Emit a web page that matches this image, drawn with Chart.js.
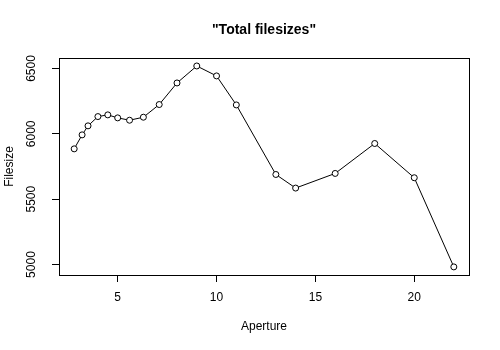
<!DOCTYPE html>
<html>
<head>
<meta charset="utf-8">
<script src="https://cdn.jsdelivr.net/npm/chart.js@4/dist/chart.umd.min.js"></script>
<style>
  html, body { margin: 0; padding: 0; background: #fff; }
  #wrap { width: 500px; height: 350px; }
</style>
</head>
<body>
<div id="wrap"><canvas id="myChart" width="500" height="350"></canvas></div>
<script>
const apertures = [2.8, 3.2, 3.5, 4, 4.5, 5, 5.6, 6.3, 7.1, 8, 9, 10, 11, 13, 14, 16, 18, 20, 22];
const filesizes = [5885, 5992, 6061, 6132, 6145, 6122, 6104, 6127, 6224, 6389, 6519, 6443, 6221, 5689, 5585, 5697, 5926, 5664, 4982];
const xTicks = [5, 10, 15, 20];
const yTicks = [5000, 5500, 6000, 6500];

const FONT = '"Liberation Sans", Arial, sans-serif';

// base-graphics look: box, rotated y labels, titles
const framePlugin = {
    id: 'frame',
    afterDraw(chart) {
        const ctx = chart.ctx;
        const a = chart.chartArea;
        const xs = chart.scales.x;
        const ys = chart.scales.y;
        ctx.save();
        ctx.strokeStyle = '#000';
        ctx.lineWidth = 1;
        ctx.strokeRect(Math.round(a.left) + 0.5, Math.round(a.top) + 0.5,
            Math.round(a.right - a.left), Math.round(a.bottom - a.top));

        ctx.fillStyle = '#000';
        ctx.font = '12px ' + FONT;
        ctx.textAlign = 'center';
        ctx.textBaseline = 'middle';
        xTicks.forEach(t => ctx.fillText(String(t), xs.getPixelForValue(t), 298));
        yTicks.forEach(t => {
            ctx.save();
            ctx.translate(32, ys.getPixelForValue(t));
            ctx.rotate(-Math.PI / 2);
            ctx.fillText(String(t), 0, 0);
            ctx.restore();
        });

        const cx = (a.left + a.right) / 2;
        const cy = (a.top + a.bottom) / 2;
        ctx.fillText('Aperture', cx, 327);
        ctx.save();
        ctx.translate(10, cy);
        ctx.rotate(-Math.PI / 2);
        ctx.fillText('Filesize', 0, 0);
        ctx.restore();

        ctx.font = 'bold 14px ' + FONT;
        ctx.fillText('"Total filesizes"', cx, 30);
        ctx.restore();
    }
};

new Chart(document.getElementById('myChart'), {
    type: 'scatter',
    data: {
        datasets: [{
            data: apertures.map((a, i) => ({ x: a, y: filesizes[i] })),
            showLine: true,
            borderColor: '#000',
            borderWidth: 1,
            pointStyle: 'circle',
            pointRadius: 3,
            pointBorderWidth: 1,
            pointBorderColor: '#000',
            pointBackgroundColor: '#fff'
        }]
    },
    options: {
        responsive: false,
        animation: false,
        layout: { padding: { top: 58, right: 31, left: 0, bottom: 0 } },
        plugins: {
            legend: { display: false },
            tooltip: { enabled: false }
        },
        scales: {
            x: {
                type: 'linear',
                min: 2.032,
                max: 22.768,
                afterBuildTicks: s => { s.ticks = xTicks.map(v => ({ value: v })); },
                afterFit: s => { s.height = 75; },
                ticks: { display: false },
                border: { display: false },
                grid: { drawOnChartArea: false, drawTicks: true, tickLength: 7, tickColor: '#000' }
            },
            y: {
                min: 4920,
                max: 6580,
                afterBuildTicks: s => { s.ticks = yTicks.map(v => ({ value: v })); },
                afterFit: s => { s.width = 59; },
                ticks: { display: false },
                border: { display: false },
                grid: { drawOnChartArea: false, drawTicks: true, tickLength: 7, tickColor: '#000' }
            }
        }
    },
    plugins: [framePlugin]
});
</script>
</body>
</html>
